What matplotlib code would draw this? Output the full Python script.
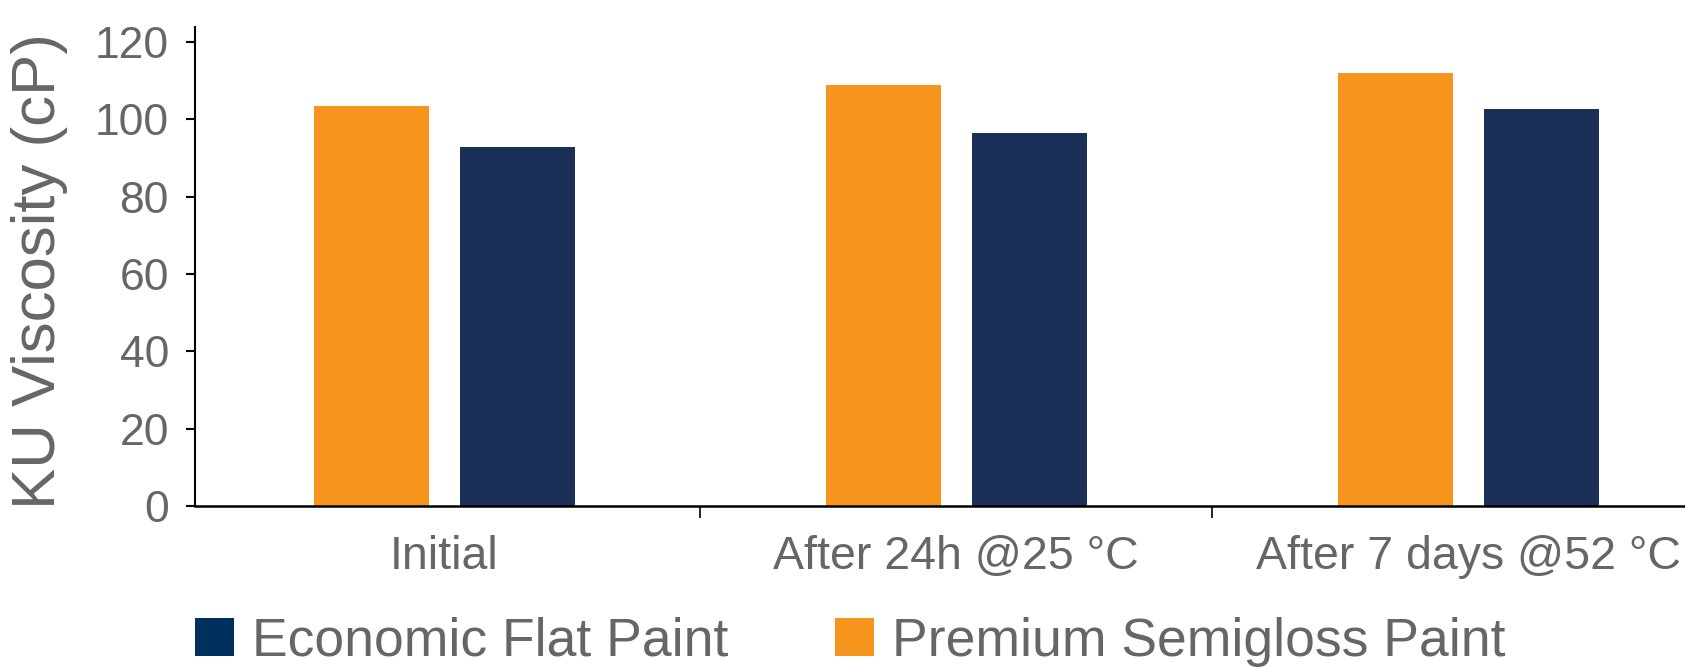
"""
KU viscosity stability chart
"""

import matplotlib

matplotlib.use("Agg")

import matplotlib.pyplot as plt
import numpy as np
from matplotlib.patches import Patch

# =====================================================
# DATA
# =====================================================

categories = ["Initial", "After 24h @25 °C", "After 7 days @52 °C"]

premium_semigloss = [103.4, 108.8, 112.1]

economic_flat = [92.8, 96.4, 102.6]

series_names = ["Economic Flat Paint", "Premium Semigloss Paint"]

y_ticks = [0, 20, 40, 60, 80, 100, 120]

# =====================================================
# STYLE
# =====================================================

ORANGE = "#F7941E"
NAVY = "#1A3059"
NAVY_LEGEND = "#00305E"
GREY = "#666666"

plt.rcParams["font.family"] = ["Liberation Sans", "DejaVu Sans"]

# =====================================================
# FIGURE
# =====================================================

figure = plt.figure(figsize=(16.85, 6.67), dpi=100)

ax = figure.add_axes([195 / 1685, 1 - 506 / 667, 1529.4 / 1685, 479.3 / 667])

x = np.arange(len(categories))
offset = 0.1428
width = 0.2246

ax.bar(x - offset, premium_semigloss, width=width, color=ORANGE)
ax.bar(x + offset, economic_flat, width=width, color=NAVY)

ax.set_xlim(-0.487, len(categories) - 0.5)
ax.set_ylim(0, 124)

# spines
for side in ["top", "right"]:
    ax.spines[side].set_visible(False)
ax.spines["left"].set_linewidth(1.5)
ax.spines["bottom"].set_linewidth(1.8)

# y axis
ax.set_yticks(y_ticks)
ax.tick_params(
    axis="y",
    direction="out",
    length=6.8,
    width=1.5,
    pad=12,
    labelsize=32,
    labelcolor=GREY,
)

# x axis: labels at centres, tick marks at group boundaries
ax.set_xticks(x)
ax.set_xticklabels(categories)
ax.tick_params(axis="x", which="major", length=0, pad=21, labelsize=33.5, labelcolor=GREY)
ax.set_xticks(np.arange(0.5, len(categories) - 0.5, 1.0), minor=True)
ax.tick_params(axis="x", which="minor", direction="out", length=8.6, width=1.2)

figure.text(
    0.0065,
    0.594,
    "KU Viscosity (cP)",
    rotation=90,
    ha="left",
    va="center",
    fontsize=44.5,
    color=GREY,
)

# legend
handles = [
    Patch(facecolor=NAVY_LEGEND, edgecolor="none"),
    Patch(facecolor=ORANGE, edgecolor="none"),
]
legend = figure.legend(
    handles,
    series_names,
    loc="center left",
    bbox_to_anchor=(195 / 1685, 1 - 642 / 667),
    ncol=2,
    frameon=False,
    fontsize=38.5,
    handlelength=0.72,
    handleheight=0.72,
    handletextpad=0.34,
    columnspacing=2.0,
    borderpad=0,
    borderaxespad=0,
)
for text in legend.get_texts():
    text.set_color(GREY)

figure.savefig("out.png", dpi=100)
plt.close(figure)
